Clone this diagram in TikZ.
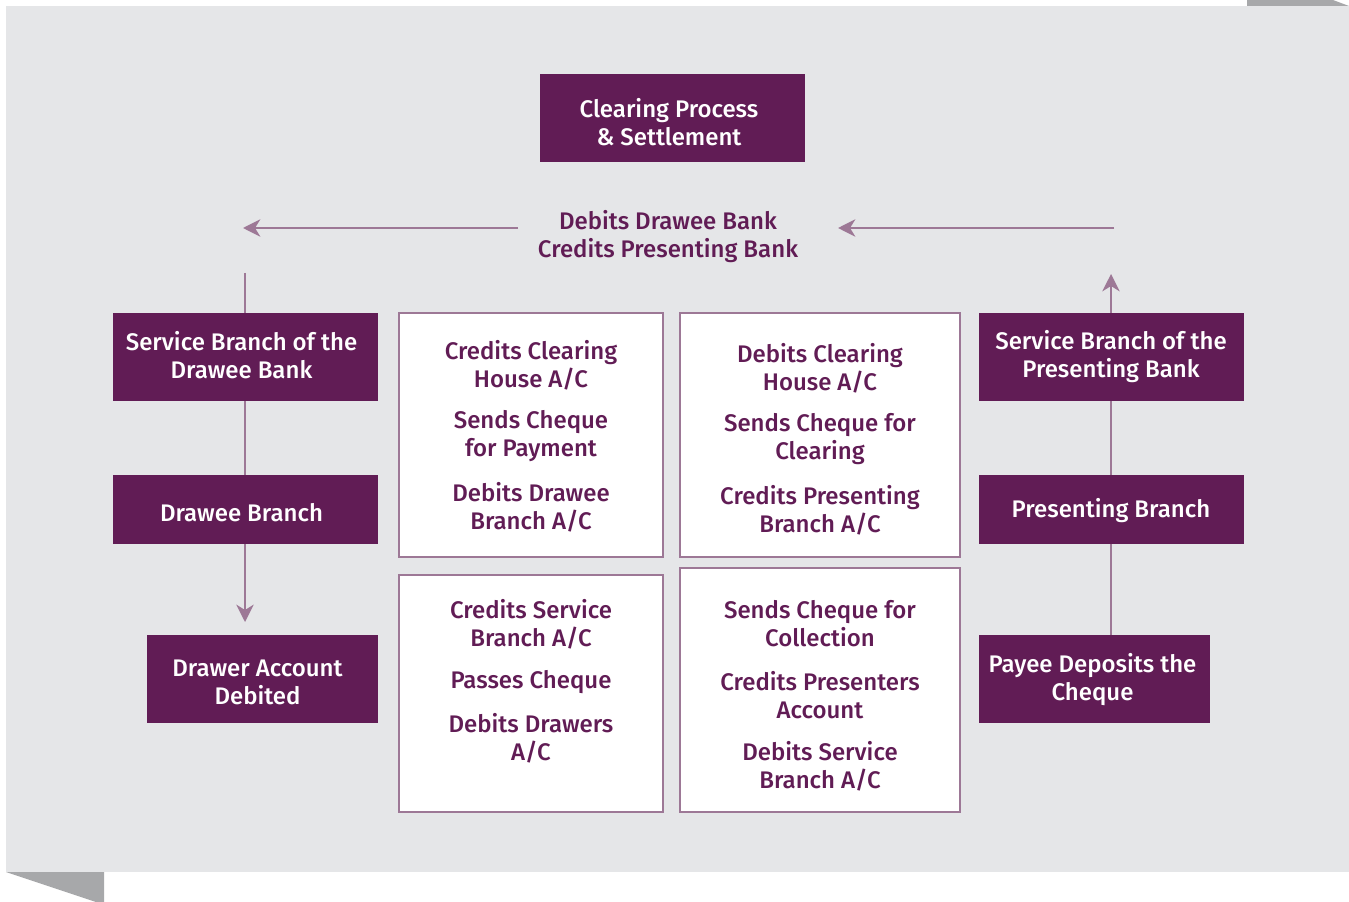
\documentclass[tikz,border=0pt]{standalone}
\usepackage{fontspec}
\setmainfont{Fira Sans}[UprightFont=* Medium]
\usetikzlibrary{arrows.meta}
\definecolor{pp}{HTML}{611C55}
\definecolor{ln}{HTML}{9D7896}
\definecolor{bg}{HTML}{E5E6E8}
\definecolor{dk}{HTML}{A7A8AA}
\tikzset{
  pbox/.style={fill=pp, inner sep=0pt},
  ptxt/.style={text=white, inner sep=0pt, align=center, font=\fontsize{18}{21}\selectfont},
  wbox/.style={fill=white, draw=ln, line width=1.5pt, inner sep=0pt},
  wtxt/.style={text=pp, align=center, inner sep=0pt, font=\fontsize{18}{21}\selectfont},
  conn/.style={draw=ln, line width=1.5pt},
  arr/.style={conn, -{Stealth[length=13pt, width=13pt, inset=4pt]}}
}
\begin{document}
\begin{tikzpicture}[x=0.75pt,y=-0.75pt]
\useasboundingbox (0,0) rectangle (1349,902);
\fill[bg] (6,6) rectangle (1349,872);
\fill[dk] (1247,0) -- (1333,0) -- (1349,6) -- (1247,6) -- cycle;
\fill[dk] (6,872) -- (104,872) -- (104,902) -- (96,902) -- cycle;

\node[pbox, minimum width=198.75pt, minimum height=66pt] (clr) at (672.5,118) {};
\node[ptxt] (clrt) at (669,122) {Clearing Process\\\& Settlement};
\node[wtxt] (lbl) at (668,237) {Debits Drawee Bank\\Credits Presenting Bank};

\node[pbox, minimum width=198.75pt, minimum height=66pt] (sbd) at (245.5,357) {};
\node[ptxt] (sbdt) at (241.5,355) {Service Branch of the\\Drawee Bank};
\node[pbox, minimum width=198.75pt, minimum height=51.75pt] (db) at (245.5,509.5) {};
\node[ptxt] (dbt) at (241.5,513) {Drawee Branch};
\node[pbox, minimum width=173.25pt, minimum height=66pt] (dad) at (262.5,679) {};
\node[ptxt] (dadt) at (257.5,682) {Drawer Account\\Debited};

\node[pbox, minimum width=198.75pt, minimum height=66pt] (sbp) at (1111.5,357) {};
\node[ptxt] (sbpt) at (1111,357) {Service Branch of the\\Presenting Bank};
\node[pbox, minimum width=198.75pt, minimum height=51.75pt] (pb) at (1111.5,509.5) {};
\node[ptxt] (pbt) at (1111,511) {Presenting Branch};
\node[pbox, minimum width=173.25pt, minimum height=66pt] (pdc) at (1094.5,679) {};
\node[ptxt] (pdct) at (1092.5,680) {Payee Deposits the\\Cheque};

\node[wbox, minimum width=198pt, minimum height=183pt] (ba) at (531,435) {};
\node[wbox, minimum width=210pt, minimum height=183pt] (bb) at (820,435) {};
\node[wbox, minimum width=198pt, minimum height=177.75pt] (bc) at (531,693.5) {};
\node[wbox, minimum width=210pt, minimum height=183pt] (bd) at (820,690) {};

\node[wtxt] (ta1) at (531,365) {Credits Clearing\\House A/C};
\node[wtxt] (ta2) at (531,436) {Sends Cheque\\for Payment};
\node[wtxt] (ta3) at (531,507) {Debits Drawee\\Branch A/C};

\node[wtxt] (tb1) at (820,368) {Debits Clearing\\House A/C};
\node[wtxt] (tb2) at (820,439) {Sends Cheque for\\Clearing};
\node[wtxt] (tb3) at (820,510) {Credits Presenting\\Branch A/C};

\node[wtxt] (tc1) at (531,624) {Credits Service\\Branch A/C};
\node[wtxt] (tc2) at (531,682) {Passes Cheque};
\node[wtxt] (tc3) at (531,738) {Debits Drawers\\A/C};

\node[wtxt] (td1) at (820,624) {Sends Cheque for\\Collection};
\node[wtxt] (td2) at (820,695) {Credits Presenters\\Account};
\node[wtxt] (td3) at (820,766) {Debits Service\\Branch A/C};

\coordinate (la0) at (518,228);
\coordinate (la1) at (243,228);
\coordinate (ra0) at (1114,228);
\coordinate (ra1) at (838,228);
\coordinate (lt) at (245,273);
\coordinate (lb) at (245,622);
\coordinate (rt) at (1111,274);

\draw[arr] (la0) -- (la1);
\draw[arr] (ra0) -- (ra1);
\draw[conn] (lt) -- (lt |- sbd.north);
\draw[conn] (lt |- sbd.south) -- (lt |- db.north);
\draw[arr] (lt |- db.south) -- (lb);
\draw[conn] (rt |- pdc.north) -- (rt |- pb.south);
\draw[conn] (rt |- pb.north) -- (rt |- sbp.south);
\draw[arr] (rt |- sbp.north) -- (rt);
\end{tikzpicture}
\end{document}
